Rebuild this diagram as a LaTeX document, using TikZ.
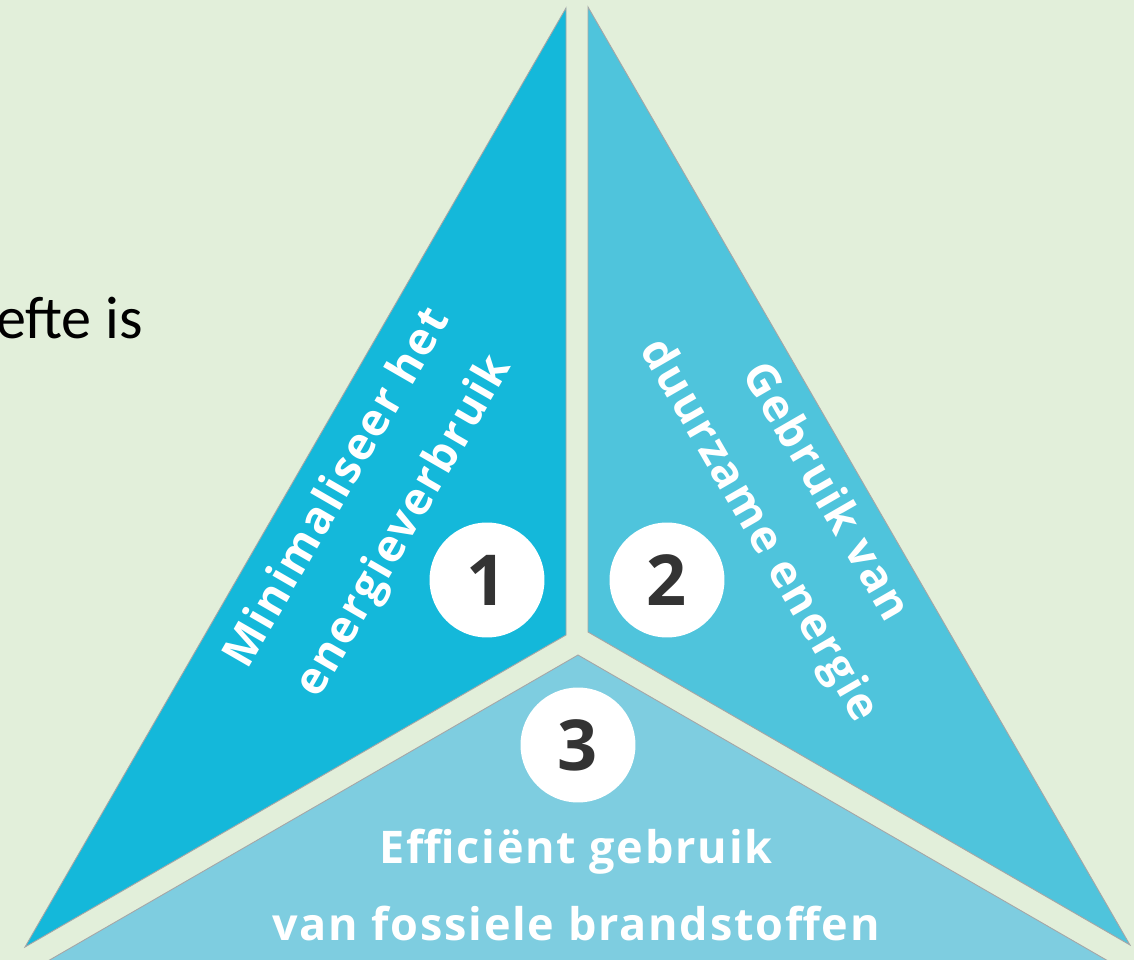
\documentclass[tikz,border=0pt]{standalone}
\usepackage{fontspec}
\setmainfont{Open Sans}
\newfontfamily\calibri{Carlito}
\newfontfamily\pilarfont[LetterSpace=4]{Open Sans}
\definecolor{bgcol}{RGB}{226,239,218}
\definecolor{blueA}{RGB}{20,184,218}
\definecolor{blueB}{RGB}{79,196,220}
\definecolor{blueC}{RGB}{126,205,224}
\definecolor{numcol}{RGB}{51,51,51}
\begin{document}
\begin{tikzpicture}[x=0.02cm,y=-0.02cm,
    piece/.style={draw=black!35,line width=0.5pt},
    num/.style={circle,fill=white,minimum size=2.3cm,inner sep=0pt,text=numcol,
      font=\bfseries\fontsize{40}{40}\selectfont},
    pilar/.style={text=white,align=center,font=\pilarfont\bfseries\fontsize{25.6}{43.5}\selectfont}]
  \useasboundingbox (0,0) rectangle (1134,960);
  \clip (0,0) rectangle (1134,960);
  \fill[bgcol] (0,0) rectangle (1134,960);
  % the three parts of the triangle
  \filldraw[piece,fill=blueA] (566,8) -- (566,635) -- (25,947) -- cycle;
  \filldraw[piece,fill=blueB] (588,7) -- (588,632) -- (1130,945) -- cycle;
  \filldraw[piece,fill=blueC] (578,655) -- (-115,1055) -- (1271,1055) -- cycle;
  \node[anchor=base east,inner sep=0pt,font=\calibri\fontsize{34.2}{40}\selectfont] (rest) at (143,338) {efte is};
  % numbers
  \foreach \n/\x/\y in {1/487/580, 2/667/580, 3/578/745}
    \node[num] (n\n) at (\x,\y) {\n};
  \node[pilar,rotate=60] (minimal) at (372,508) {Minimaliseer het\\energieverbruik};
  \node[pilar,rotate=-60] (duurzaam) at (791,512) {Gebruik van\\duurzame energie};
  \node[pilar] (fossiel) at (576,885) {Efficiënt gebruik\\van fossiele brandstoffen};
\end{tikzpicture}
\end{document}
